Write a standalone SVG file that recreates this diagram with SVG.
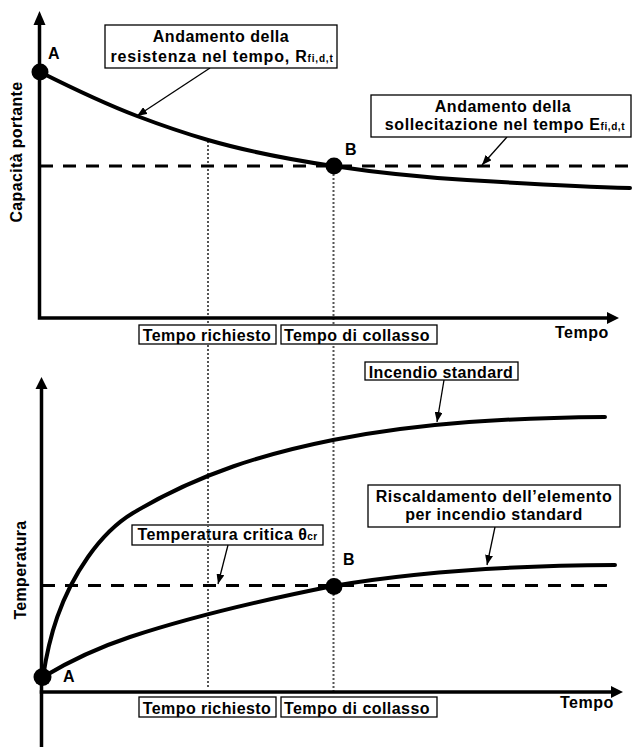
<svg xmlns="http://www.w3.org/2000/svg" width="633" height="747" viewBox="0 0 633 747">
<style>
.t { font-family: "Liberation Sans", Arial, sans-serif; font-weight: bold; font-size: 16px; fill: #000; }
.sub { font-size: 10px; }
.box { fill: #fff; stroke: #000; stroke-width: 1.3; }
.curve { fill: none; stroke: #000; stroke-width: 4; stroke-linecap: round; }
.axis { fill: none; stroke: #000; stroke-width: 3.5; }
.head { fill: #000; }
.dash { stroke: #000; stroke-width: 3; stroke-dasharray: 13 10; }
.dot { stroke: #555; stroke-width: 2; stroke-dasharray: 2 2; }
.lead { stroke: #000; stroke-width: 1.3; marker-end: url(#ah); }
.pt { fill: #000; }
</style>
<defs>
<marker id="ah" markerUnits="userSpaceOnUse" markerWidth="10" markerHeight="8" refX="10" refY="4" orient="auto">
<path d="M0,0 L10,4 L0,8 z" fill="#000"/>
</marker>
</defs>
<rect width="633" height="747" fill="#fff"/>

<g id="box-temp-critica">
<rect class="box" x="132" y="525" width="191" height="20"/>
<text class="t" x="227.5" y="540" text-anchor="middle" letter-spacing="0.45">Temperatura critica θ<tspan class="sub">cr</tspan></text>
</g>

<g id="connectors">
<line class="dot" x1="208" y1="141" x2="208" y2="687"/>
<line class="dot" x1="333.5" y1="166" x2="333.5" y2="691"/>
<line class="dash" x1="40" y1="166" x2="631" y2="166"/>
<line class="dash" x1="42" y1="585.5" x2="607" y2="585.5"/>
<path class="curve" d="M40,72 C72.3,88.2 104.7,103.7 137,116 C160.7,125 184.3,133.1 208,140 C249.7,152.1 291.3,159.7 333,166 C377.7,172.7 422.3,177.3 467,180 C521.3,183.3 575.7,186.4 630,188"/>
<path class="curve" d="M43,677 C49,637 60,597 88,557 C103,535.6 118,522 133,513 C199.7,473 266.3,453.3 333,440 C423.7,421.9 514.3,417.9 605,417"/>
<path class="curve" d="M43,677 C72,659.6 101,646.6 130,637 C197.7,614.7 265.3,599.5 333,586 C427,570 521,565.5 615,565"/>
<path class="axis" d="M39.5,24 V318 H608"/>
<polygon class="head" points="33.5,25 45.5,25 39.5,11"/>
<polygon class="head" points="607,312 607,324 619,318"/>
<line class="axis" x1="41.5" y1="388" x2="41.5" y2="747"/>
<line class="axis" x1="39.75" y1="692" x2="612" y2="692"/>
<polygon class="head" points="35.5,389 47.5,389 41.5,377"/>
<polygon class="head" points="611,686 611,698 623,692"/>
<line class="lead" x1="210" y1="68" x2="137" y2="116"/>
<line class="lead" x1="507" y1="137" x2="482" y2="165"/>
<line class="lead" x1="444" y1="380" x2="437" y2="422"/>
<line class="lead" x1="228" y1="545" x2="218" y2="584"/>
<line class="lead" x1="495" y1="527" x2="487" y2="565"/>
</g>

<g id="point-A-top">
<circle class="pt" cx="40" cy="72" r="8.5"/>
<text class="t" x="48" y="59">A</text>
</g>
<g id="point-B-top">
<circle class="pt" cx="334" cy="166" r="8.5"/>
<text class="t" x="345" y="155">B</text>
</g>
<g id="point-A-bottom">
<circle class="pt" cx="42.5" cy="677" r="9"/>
<text class="t" x="63" y="682">A</text>
</g>
<g id="point-B-bottom">
<circle class="pt" cx="334" cy="586.5" r="8.5"/>
<text class="t" x="343" y="565">B</text>
</g>

<g id="box-resistenza">
<rect class="box" x="105" y="25" width="232" height="43"/>
<text class="t" x="221" y="42" text-anchor="middle" letter-spacing="0.5">Andamento della</text>
<text class="t" x="222" y="62" text-anchor="middle" letter-spacing="0.8">resistenza nel tempo, R<tspan class="sub">fi,d,t</tspan></text>
</g>
<g id="box-sollecitazione">
<rect class="box" x="371" y="95" width="260" height="42"/>
<text class="t" x="503" y="112" text-anchor="middle" letter-spacing="0.5">Andamento della</text>
<text class="t" x="505" y="130" text-anchor="middle" letter-spacing="0.6">sollecitazione nel tempo E<tspan class="sub">fi,d,t</tspan></text>
</g>
<g id="label-capacita">
<text class="t" transform="translate(22,152) rotate(-90)" text-anchor="middle" letter-spacing="0.35">Capacità portante</text>
</g>
<g id="box-tempo-richiesto-top">
<rect class="box" x="139" y="325" width="137" height="19"/>
<text class="t" x="207" y="341" text-anchor="middle" letter-spacing="0.4">Tempo richiesto</text>
</g>
<g id="box-tempo-collasso-top">
<rect class="box" x="281" y="325" width="156" height="19"/>
<text class="t" x="357" y="341" text-anchor="middle" letter-spacing="0.45">Tempo di collasso</text>
</g>
<g id="label-tempo-top">
<text class="t" x="555" y="338" letter-spacing="0.5">Tempo</text>
</g>

<g id="box-incendio">
<rect class="box" x="365" y="362" width="153" height="18"/>
<text class="t" x="441" y="377.5" text-anchor="middle" letter-spacing="0.4">Incendio standard</text>
</g>
<g id="box-riscaldamento">
<rect class="box" x="368" y="485" width="252" height="42"/>
<text class="t" x="494" y="502" text-anchor="middle" letter-spacing="0.6">Riscaldamento dell’elemento</text>
<text class="t" x="494" y="520" text-anchor="middle" letter-spacing="0.5">per incendio standard</text>
</g>
<g id="label-temperatura">
<text class="t" transform="translate(26,570) rotate(-90)" text-anchor="middle" letter-spacing="0.3">Temperatura</text>
</g>
<g id="box-tempo-richiesto-bottom">
<rect class="box" x="139" y="697" width="137" height="20"/>
<text class="t" x="207" y="714" text-anchor="middle" letter-spacing="0.4">Tempo richiesto</text>
</g>
<g id="box-tempo-collasso-bottom">
<rect class="box" x="281" y="697" width="156" height="20"/>
<text class="t" x="357" y="714" text-anchor="middle" letter-spacing="0.45">Tempo di collasso</text>
</g>
<g id="label-tempo-bottom">
<text class="t" x="560" y="708" letter-spacing="0.5">Tempo</text>
</g>
</svg>
